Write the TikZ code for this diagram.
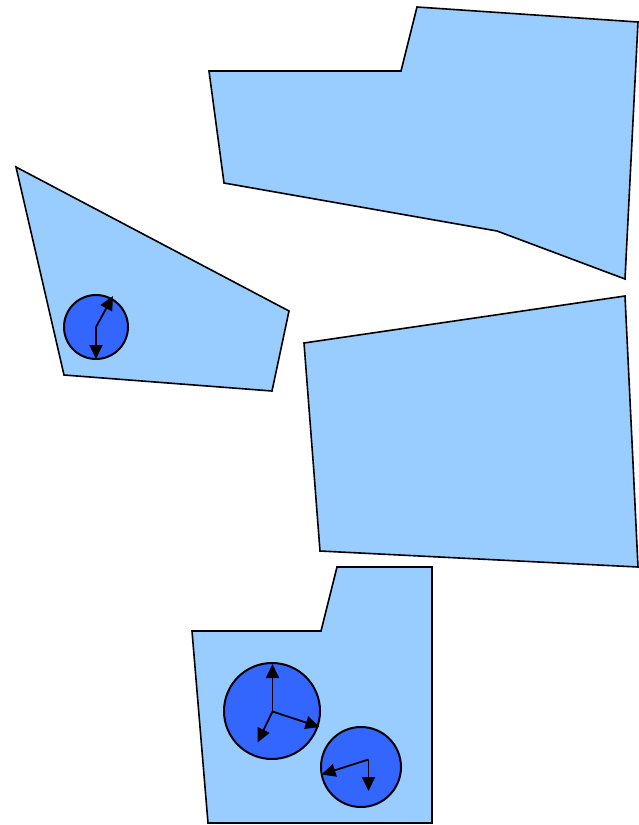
\documentclass[tikz,border=0pt]{standalone}
\usetikzlibrary{arrows.meta}
\definecolor{region}{HTML}{99CCFF}
\definecolor{disc}{HTML}{3366FF}
\tikzset{
  regionshape/.style={fill=region, draw=black, line width=1.6pt, line join=miter},
  discshape/.style={fill=disc, draw=black, line width=2pt},
  vec/.style={draw=black, line width=1.8pt, -{Triangle[length=14pt,width=13pt]}}
}
\begin{document}
\begin{tikzpicture}[x=1pt,y=-1pt]
\useasboundingbox (0,0) rectangle (638,825);
% regions
\path[regionshape] (209,71) -- (401,71) -- (417,7) -- (638,22) -- (625,279) -- (497,231) -- (224,183) -- cycle;
\path[regionshape] (16,167) -- (289,311) -- (272,391) -- (64,375) -- cycle;
\path[regionshape] (304,343) -- (625,296) -- (638,567) -- (320,551) -- cycle;
\path[regionshape] (192,631) -- (321,631) -- (337,567) -- (432,567) -- (432,823) -- (208,823) -- cycle;
% discs
\node[discshape, circle, minimum size=64pt, inner sep=0pt] (d1) at (96,327) {};
\node[discshape, circle, minimum size=96pt, inner sep=0pt] (d2) at (272,711) {};
\node[discshape, circle, minimum size=80pt, inner sep=0pt] (d3) at (361,767) {};
% vectors
\coordinate (o1) at (96,327);
\coordinate (a1) at (96,359);
\coordinate (b1) at (113,296);
\draw[vec] (o1) -- (a1);
\draw[vec] (o1) -- (b1);
\coordinate (o2) at (272.5,711.5);
\coordinate (a2) at (272.5,664);
\coordinate (b2) at (319.5,727);
\coordinate (c2) at (257.5,742.5);
\draw[vec] (o2) -- (a2);
\draw[vec] (o2) -- (b2);
\draw[vec] (o2) -- (c2);
\coordinate (o3) at (368.5,759.5);
\coordinate (a3) at (368.5,791);
\coordinate (b3) at (321.5,774.5);
\draw[vec] (o3) -- (a3);
\draw[vec] (o3) -- (b3);
\end{tikzpicture}
\end{document}
